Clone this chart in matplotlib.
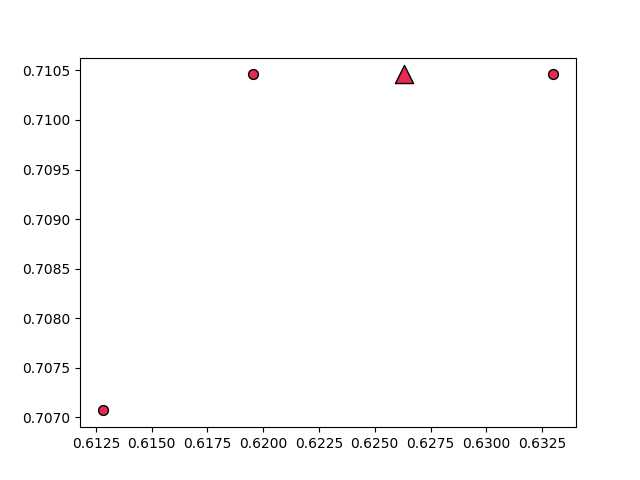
import matplotlib
matplotlib.use("Agg")
import matplotlib.pyplot as plt

pts_x = [0.6128, 0.61954, 0.63301]
pts_y = [0.70707, 0.71046, 0.71046]
best_x = [0.62629]
best_y = [0.71046]

color = "#e62a50"

fig, ax = plt.subplots(figsize=(6.4, 4.8), dpi=100)
ax.scatter(pts_x, pts_y, s=50, c=color, edgecolors="black", linewidths=1, zorder=3)
ax.scatter(best_x, best_y, s=170, marker="^", c=color, edgecolors="black", linewidths=1, zorder=4)
fig.savefig("out.png")
